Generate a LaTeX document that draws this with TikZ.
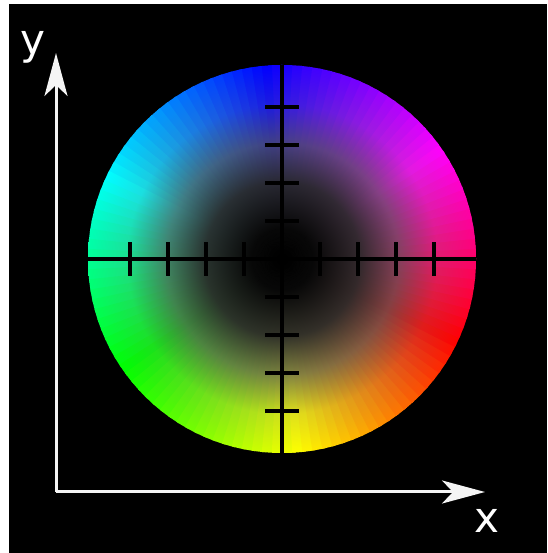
\documentclass[tikz,border=0pt]{standalone}
\usepackage{fontspec}
\usepackage{tikz}
\setmainfont{DejaVu Sans}
\usetikzlibrary{arrows.meta}

% current hue of one wedge, and a ramp from black (centre) to that hue (rim)
\definecolor{huecol}{rgb}{1,0,0}
\pgfdeclareradialshading[huecol]{hueramp}{\pgfpoint{0bp}{0bp}}{%
  color(0bp)=(black);
  color(4bp)=(huecol!3!black);
  color(10bp)=(huecol!20!black);
  color(15bp)=(huecol!52!black);
  color(20bp)=(huecol!88!black);
  color(25bp)=(huecol);
  color(50bp)=(huecol)}

\begin{document}
\begin{tikzpicture}[x=0.02cm,y=0.02cm,
    axis/.style={line width=0.06cm, white!92!gray,
      -{Stealth[length=0.86cm, width=0.46cm, inset=0.22cm]}},
    cross/.style={line width=0.08cm, black},
    axislabel/.style={text=white, font=\fontsize{24}{28}\selectfont,
      inner sep=0pt, anchor=base}]
        \useasboundingbox (0,0) rectangle (547,553);
        \fill[white] (0,0) rectangle (547,553);
        \fill[black] (9,0) rectangle (547,549);
        % colour disc: hue turns with the angle, brightness grows with the radius
        \coordinate (C) at (282,294);
        \foreach \a in {0,3,...,357}{
          \pgfmathsetmacro{\h}{mod(335-\a-1.5+720,360)}
          \definecolor{huecol}{Hsb}{\h,1,1}
          \begin{scope}
            \clip (C) -- ++(\a:200) arc[start angle=\a, end angle=\a+4, radius=200] -- cycle;
            \shade[shading=hueramp] (C) circle (194);
          \end{scope}
        }
        % cross hair through the centre
        \coordinate (L) at (88,294);
        \coordinate (R) at (476,294);
        \coordinate (T) at (282,488);
        \coordinate (B) at (282,100);
        \draw[cross] (L) -- (R);
        \draw[cross] (B) -- (T);
        % ticks every 38px along both hairs
        \foreach \d in {-152,-114,-76,-38,38,76,114,152}{
          \draw[cross] (282+\d,277) -- (282+\d,311);
          \draw[cross] (265,294+\d) -- (299,294+\d);
        }
        % axes
        \coordinate (O) at (56,61);
        \coordinate (ytip) at (56,500);
        \coordinate (xtip) at (485,61);
        \draw[axis] (O) -- (ytip);
        \draw[axis] (O) -- (xtip);
        \node[axislabel] (ylab) at (33,498) {y};
        \node[axislabel] (xlab) at (487,20) {x};
      \end{tikzpicture}
\end{document}
